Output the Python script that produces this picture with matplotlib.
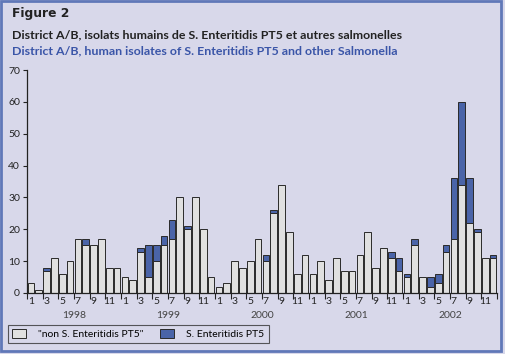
import numpy as np
import matplotlib
matplotlib.use("Agg")
import matplotlib.pyplot as plt
from matplotlib.patches import Rectangle, Patch

plt.rcParams["font.family"] = ["Lato", "DejaVu Sans"]

years = ["1998", "1999", "2000", "2001", "2002"]
month_labels = ["1", "3", "5", "7", "9", "11"]

# monthly counts, Jan 1998 - Dec 2002
non_pt5 = [
    3, 1, 7, 11, 6, 10, 17, 15, 15, 17, 8, 8,
    5, 4, 13, 5, 10, 15, 17, 30, 20, 30, 20, 5,
    2, 3, 10, 8, 10, 17, 10, 25, 34, 19, 6, 12,
    6, 10, 4, 11, 7, 7, 12, 19, 8, 14, 11, 7,
    5, 15, 5, 2, 3, 13, 17, 34, 22, 19, 11, 11,
]
pt5 = [
    0, 0, 1, 0, 0, 0, 0, 2, 0, 0, 0, 0,
    0, 0, 1, 10, 5, 3, 6, 0, 1, 0, 0, 0,
    0, 0, 0, 0, 0, 0, 2, 1, 0, 0, 0, 0,
    0, 0, 0, 0, 0, 0, 0, 0, 0, 0, 2, 4,
    1, 2, 0, 3, 3, 2, 19, 26, 14, 1, 0, 1,
]

BG = "#d8d8ea"
GRAY = "#e0e0e0"
BLUE = "#4a64a8"
EDGE = "#2a2a2a"

fig = plt.figure(figsize=(5.05, 3.54), dpi=100, facecolor=BG)
ax = fig.add_axes([27 / 505, 1 - 293 / 354, 470 / 505, 223 / 354])
ax.set_facecolor(BG)

x = np.arange(len(non_pt5))
non_arr = np.array(non_pt5)
pt5_arr = np.array(pt5)
ax.bar(x, non_arr, width=0.84, color=GRAY, edgecolor=EDGE, linewidth=0.7)
mask = pt5_arr > 0
ax.bar(x[mask], pt5_arr[mask], bottom=non_arr[mask], width=0.84,
       color=BLUE, edgecolor=EDGE, linewidth=0.7)

ax.set_xlim(-0.5, 59.5)
ax.set_ylim(0, 70)
ax.set_yticks(range(0, 71, 10))
ax.tick_params(axis="y", length=3, width=0.8, labelsize=7.5, pad=2, colors="#222222")

# month labels at odd months, tick marks between pairs
ax.set_xticks(np.arange(0, 60, 2))
ax.set_xticklabels(month_labels * len(years))
ax.set_xticks(np.arange(-0.5, 60, 2), minor=True)
ax.tick_params(axis="x", which="major", length=0, labelsize=7.5, pad=3, colors="#222222")
ax.tick_params(axis="x", which="minor", length=4, width=0.8, color="#222222")

for s in ["top", "right"]:
    ax.spines[s].set_visible(False)
for s in ["left", "bottom"]:
    ax.spines[s].set_color("#222222")
    ax.spines[s].set_linewidth(0.9)

for i, yr in enumerate(years):
    ax.text(i * 12 + 5.5, -0.1, yr, transform=ax.get_xaxis_transform(),
            ha="center", va="center", fontsize=7.5, color="#444444")

# titles
fig.text(12 / 505, 1 - 17 / 354, "Figure 2", fontsize=8.8, fontweight="heavy",
         family=["DejaVu Sans"], color="#222222", va="baseline")
fig.text(12 / 505, 1 - 38 / 354,
         "District A/B, isolats humains de S. Enteritidis PT5 et autres salmonelles",
         fontsize=8.9, fontweight="bold", color="#222222", va="baseline")
fig.text(12 / 505, 1 - 54 / 354,
         "District A/B, human isolates of S. Enteritidis PT5 and other Salmonella",
         fontsize=8.9, fontweight="bold", color="#3a55a8", va="baseline")

handles = [Patch(facecolor=GRAY, edgecolor=EDGE, linewidth=0.7),
           Patch(facecolor=BLUE, edgecolor=EDGE, linewidth=0.7)]
leg = fig.legend(handles, ['"non S. Enteritidis PT5"', "S. Enteritidis PT5"],
                 loc="lower left", bbox_to_anchor=(8 / 505, 1 - 343 / 354),
                 ncol=2, fontsize=7.5, frameon=True, fancybox=False,
                 facecolor=BG, edgecolor="#333333", handlelength=1.3,
                 handleheight=0.9, columnspacing=1.6, borderpad=0.4,
                 handletextpad=1.2, borderaxespad=0)
leg.get_frame().set_linewidth(0.8)

fig.patches.append(Rectangle((1 / 505, 3 / 354), 500 / 505, 350 / 354,
                             transform=fig.transFigure, fill=False,
                             edgecolor="#6078b8", linewidth=2))

fig.savefig("out.png", dpi=100, facecolor=BG)
